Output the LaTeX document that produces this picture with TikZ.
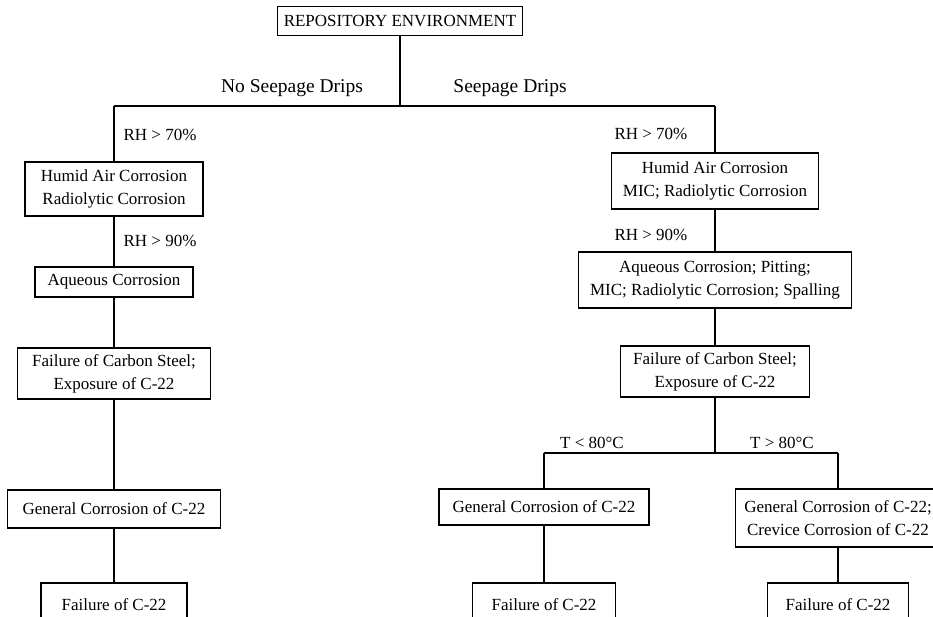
\documentclass[tikz,border=0pt]{standalone}
\usepackage{fontspec}
\setmainfont{Liberation Serif}
\usepackage{tikz}
\usetikzlibrary{positioning}

\begin{document}
\begin{tikzpicture}[
  x=1pt, y=-1pt,
  font=\fontsize{17}{23}\selectfont,
  line width=1.2pt,
  box/.style={draw,rectangle,align=center,inner sep=2pt},
  cond/.style={inner sep=0pt},
  branch/.style={inner sep=0pt,font=\fontsize{19.5}{23}\selectfont}
    ]

\useasboundingbox (0,0) rectangle (933,617);
\clip (0,0) rectangle (933,617);

\node[box, minimum width=245pt, minimum height=29pt] (env) at (400,21) {REPOSITORY ENVIRONMENT};
\coordinate (ls) at (114,106);
\coordinate (rs) at (715,106);
\node[branch] (nodrip) at (292,88) {No Seepage Drips};
\node[branch] (drip) at (510,88) {Seepage Drips};

% no seepage drips
\node[box, minimum width=178pt, minimum height=54pt] (lhum) at (114,189) {Humid Air Corrosion\\Radiolytic Corrosion};
\node[box, minimum width=158pt, minimum height=30pt] (laq) at (114,282) {Aqueous Corrosion};
\node[box, minimum width=193pt, minimum height=51pt] (lfail) at (114,373.5) {Failure of Carbon Steel;\\Exposure of C-22};
\node[box, minimum width=213pt, minimum height=38pt] (lgen) at (114,509) {General Corrosion of C-22};
\node[box, minimum width=146pt, minimum height=44pt] (lend) at (114,605) {Failure of C-22};
\node[cond, anchor=west] (l70) at (123,135) {RH > 70\%};
\node[cond, anchor=west] (l90) at (123,241) {RH > 90\%};

% seepage drips
\node[box, minimum width=207pt, minimum height=56pt] (rhum) at (715,181) {Humid Air Corrosion\\MIC; Radiolytic Corrosion};
\node[box, minimum width=273pt, minimum height=56pt] (raq) at (715,280) {Aqueous Corrosion; Pitting;\\MIC; Radiolytic Corrosion; Spalling};
\node[box, minimum width=189pt, minimum height=51pt] (rfail) at (715,371.5) {Failure of Carbon Steel;\\Exposure of C-22};
\node[cond, anchor=east] (r70) at (688,134) {RH > 70\%};
\node[cond, anchor=east] (r90) at (688,235) {RH > 90\%};

\coordinate (tl) at (544,453);
\coordinate (tr) at (838,453);
\node[cond] (tlow) at (592,443) {T < 80°C};
\node[cond] (thigh) at (782,443) {T > 80°C};
\node[box, minimum width=210pt, minimum height=36pt] (rgen) at (544,507) {General Corrosion of C-22};
\node[box, minimum width=143pt, minimum height=44pt] (rend) at (544,605) {Failure of C-22};
\node[box, minimum width=205pt, minimum height=58pt] (rcrev) at (838,518) {General Corrosion of C-22;\\Crevice Corrosion of C-22};
\node[box, minimum width=141pt, minimum height=44pt] (rcend) at (838,605) {Failure of C-22};

\draw (env) -- (env |- ls);
\draw (ls) -- (rs);
\draw (rfail) -- (rfail |- tl);
\draw (tl) -- (tr);
\path (ls) edge (lhum)
(lhum) edge (laq)
(laq) edge (lfail)
(lfail) edge (lgen)
(lgen) edge (lend)
(rs) edge (rhum)
(rhum) edge (raq)
(raq) edge (rfail)
(tl) edge (rgen)
(rgen) edge (rend)
(tr) edge (rcrev)
(rcrev) edge (rcend);

\end{tikzpicture}
\end{document}
